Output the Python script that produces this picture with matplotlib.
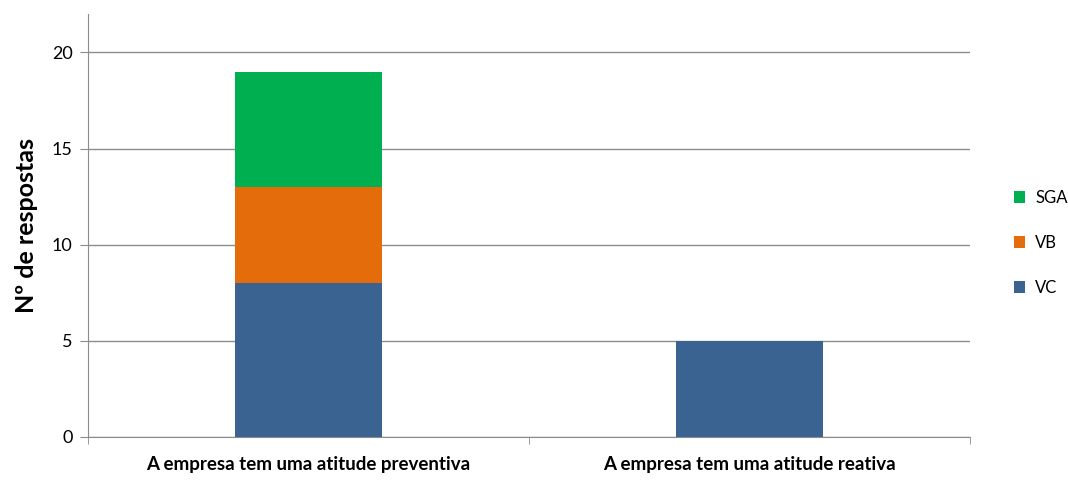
import matplotlib.pyplot as plt
import numpy as np

plt.rcParams['font.family'] = ['Lato', 'DejaVu Sans']

categories = ['A empresa tem uma atitude preventiva', 'A empresa tem uma atitude reativa']
series = ['VC', 'VB', 'SGA']
vc = [8, 5]
vb = [5, 0]
sga = [6, 0]
colors = ['#3A6392', '#E46C0A', '#00B050']

fig = plt.figure(figsize=(10.68, 4.8), dpi=100)
ax = fig.add_axes([0.0824, 0.0896, 0.8256, 0.8814])

x = np.arange(len(categories))
bottom = np.zeros(len(categories))
handles = []
for name, vals, c in zip(series, [vc, vb, sga], colors):
    h = ax.bar(x, vals, width=0.333, bottom=bottom, color=c, label=name, zorder=3)
    handles.append(h)
    bottom += np.array(vals)

ax.set_xlim(-0.5, 1.5)
ax.set_ylim(0, 22)
ax.set_yticks([0, 5, 10, 15, 20])
ax.yaxis.grid(True, color='#8C8C8C', linewidth=1, zorder=0)
ax.set_xticks(x)
ax.set_xticklabels(categories, fontsize=13.5, fontweight='bold')
ax.set_xticks([-0.5, 0.5, 1.5], minor=True)
ax.tick_params(axis='x', which='major', length=0, pad=14)
ax.tick_params(axis='x', which='minor', length=5, color='#8C8C8C', direction='out')
ax.tick_params(axis='y', length=6, color='#8C8C8C', labelsize=13, pad=5)
ax.set_ylabel('Nº de respostas', fontsize=18, fontweight='bold', labelpad=10)

for s in ['top', 'right']:
    ax.spines[s].set_visible(False)
for s in ['left', 'bottom']:
    ax.spines[s].set_color('#8C8C8C')

ax.legend(handles[::-1], series[::-1], loc='center left', bbox_to_anchor=(0.935, 0.494),
          bbox_transform=fig.transFigure, frameon=False, fontsize=12,
          handlelength=0.7, handleheight=0.7, handletextpad=0.6, labelspacing=1.75)

fig.savefig('out.png', dpi=100)
